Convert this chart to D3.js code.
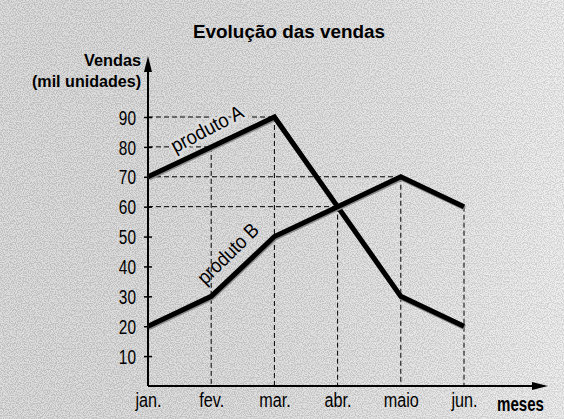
<!DOCTYPE html>
<html><head><meta charset="utf-8">
<script src="https://cdn.jsdelivr.net/npm/d3@7"></script>
<style>
html,body{margin:0;padding:0;background:#dedede;}
svg{display:block;}
</style></head><body>
<svg id="c" width="564" height="419"></svg>
<script>
const months = ["jan.", "fev.", "mar.", "abr.", "maio", "jun."];
const produtoA = [70, 80, 90, 60, 30, 20];
const produtoB = [20, 30, 50, 60, 70, 60];
const yTicks = [10, 20, 30, 40, 50, 60, 70, 80, 90];
// guide lines: horizontal (value -> month index), vertical (month index from value)
const hGuides = [[90, 2], [80, 1], [70, 4], [60, 3]];
const vGuides = [[1, 80], [2, 90], [3, 60], [4, 70], [5, 60]];

const FONT = "'Liberation Sans', Arial, sans-serif";
const svg = d3.select("#c").attr("font-family", FONT);
const bg = "#dcdcdc";

// background with speckle texture
const defs = svg.append("defs");
const f = defs.append("filter").attr("id","noise").attr("x",0).attr("y",0).attr("width","100%").attr("height","100%");
f.append("feTurbulence").attr("type","fractalNoise").attr("baseFrequency","0.85").attr("numOctaves",1).attr("seed",7).attr("result","t");
f.append("feColorMatrix").attr("in","t").attr("type","matrix")
  .attr("values","0 0 0 0 0.6  0 0 0 0 0.6  0 0 0 0 0.6  6 0 0 0 -2.6");
const grad = defs.append("linearGradient").attr("id","shade").attr("x1",0).attr("x2",1).attr("y1",0).attr("y2",0);
grad.append("stop").attr("offset","0").attr("stop-color","#000").attr("stop-opacity",0.06);
grad.append("stop").attr("offset","1").attr("stop-color","#fff").attr("stop-opacity",0.15);

svg.append("rect").attr("width",564).attr("height",419).attr("fill","#ebebeb");
svg.append("rect").attr("width",564).attr("height",419).attr("filter","url(#noise)");
svg.append("rect").attr("width",564).attr("height",419).attr("fill","url(#shade)");

const x = d3.scalePoint().domain(months).range([148, 464]);
const y = d3.scaleLinear().domain([0, 90]).range([386, 117]);

function fit(sel, w){ sel.each(function(){ const n=this.getComputedTextLength(); d3.select(this).attr("textLength", typeof w==="function"? w(n): w).attr("lengthAdjust","spacingAndGlyphs"); }); return sel; }

// guides
const g = svg.append("g").attr("stroke","#000").attr("stroke-width",1).attr("stroke-dasharray","5,3");
hGuides.forEach(([v,i])=>{
  g.append("line").attr("x1",x(months[0])).attr("x2",x(months[i])).attr("y1",y(v)).attr("y2",y(v));
});
vGuides.forEach(([i,v])=>{
  g.append("line").attr("x1",x(months[i])).attr("x2",x(months[i])).attr("y1",y(v)).attr("y2",y(0));
});

// axes
const axisY = svg.append("g").attr("transform",`translate(${x(months[0])},0)`)
  .call(d3.axisLeft(y).tickValues(yTicks).tickSize(4).tickPadding(8));
axisY.select(".domain").remove();
axisY.selectAll(".tick line").attr("x2",4).attr("x1",-4).attr("stroke","#000").attr("stroke-width",1.5);
axisY.selectAll(".tick text").attr("font-size",20).attr("font-family",FONT).attr("fill","#000").attr("dy","0.36em");
fit(axisY.selectAll(".tick text"), n=>n*0.77);

const axisX = svg.append("g").attr("transform",`translate(0,${y(0)})`)
  .call(d3.axisBottom(x).tickSize(0).tickPadding(7));
axisX.select(".domain").remove();
axisX.selectAll(".tick text").attr("font-size",20).attr("font-family",FONT).attr("fill","#000");
fit(axisX.selectAll(".tick text"), n=>n*0.81);

// axis lines with arrows
const x0 = x(months[0]), yb = y(0);
svg.append("line").attr("x1",x0).attr("x2",x0).attr("y1",yb).attr("y2",66).attr("stroke","#000").attr("stroke-width",2);
svg.append("path").attr("d",`M${x0},56 L${x0-4},72 L${x0+4},72 Z`).attr("fill","#000");
svg.append("line").attr("x1",x0).attr("x2",536).attr("y1",yb).attr("y2",yb).attr("stroke","#000").attr("stroke-width",2);
svg.append("path").attr("d",`M548,${yb} L532,${yb-4} L532,${yb+4} Z`).attr("fill","#000");

// series lines
const line = d3.line().x((d,i)=>x(months[i])).y(d=>y(d));
[produtoA, produtoB].forEach(s=>{
  svg.append("path").datum(s).attr("d",line).attr("fill","none")
    .attr("stroke","#888").attr("stroke-width",5).attr("transform","translate(0.8,1.4)").attr("stroke-linejoin","miter");
  svg.append("path").datum(s).attr("d",line).attr("fill","none")
    .attr("stroke","#000").attr("stroke-width",5).attr("stroke-linejoin","miter");
});

// series labels
function angle(s,i){ return Math.atan2(y(s[i+1])-y(s[i]), x(months[i+1])-x(months[i]))*180/Math.PI; }
const aA = angle(produtoA,0) - 2.5;
fit(svg.append("text").attr("transform",`translate(${x(months[1])-1},${y(produtoA[1])-12}) rotate(${aA})`)
  .attr("text-anchor","middle").attr("font-size",20)
  .attr("stroke",bg).attr("stroke-width",5).attr("paint-order","stroke").text("produto A"), 79);
const aB = angle(produtoB,1) - 1;
fit(svg.append("text").attr("transform",`translate(${(x(months[1])+x(months[2]))/2-10},${(y(produtoB[1])+y(produtoB[2]))/2-8}) rotate(${aB})`)
  .attr("text-anchor","middle").attr("font-size",20).text("produto B"), 77);

// titles
fit(svg.append("text").attr("x",289).attr("y",38).attr("text-anchor","middle")
  .attr("font-weight","bold").attr("font-size",18)
  .text("Evolução das vendas"), 192);
fit(svg.append("text").attr("x",141).attr("y",66).attr("text-anchor","end")
  .attr("font-weight","bold").attr("font-size",17).text("Vendas"), 57);
fit(svg.append("text").attr("x",141).attr("y",87).attr("text-anchor","end")
  .attr("font-weight","bold").attr("font-size",17).text("(mil unidades)"), 109);
fit(svg.append("text").attr("x",544).attr("y",411).attr("text-anchor","end")
  .attr("font-weight","bold").attr("font-size",21).text("meses"), 47);
</script>
</body></html>
